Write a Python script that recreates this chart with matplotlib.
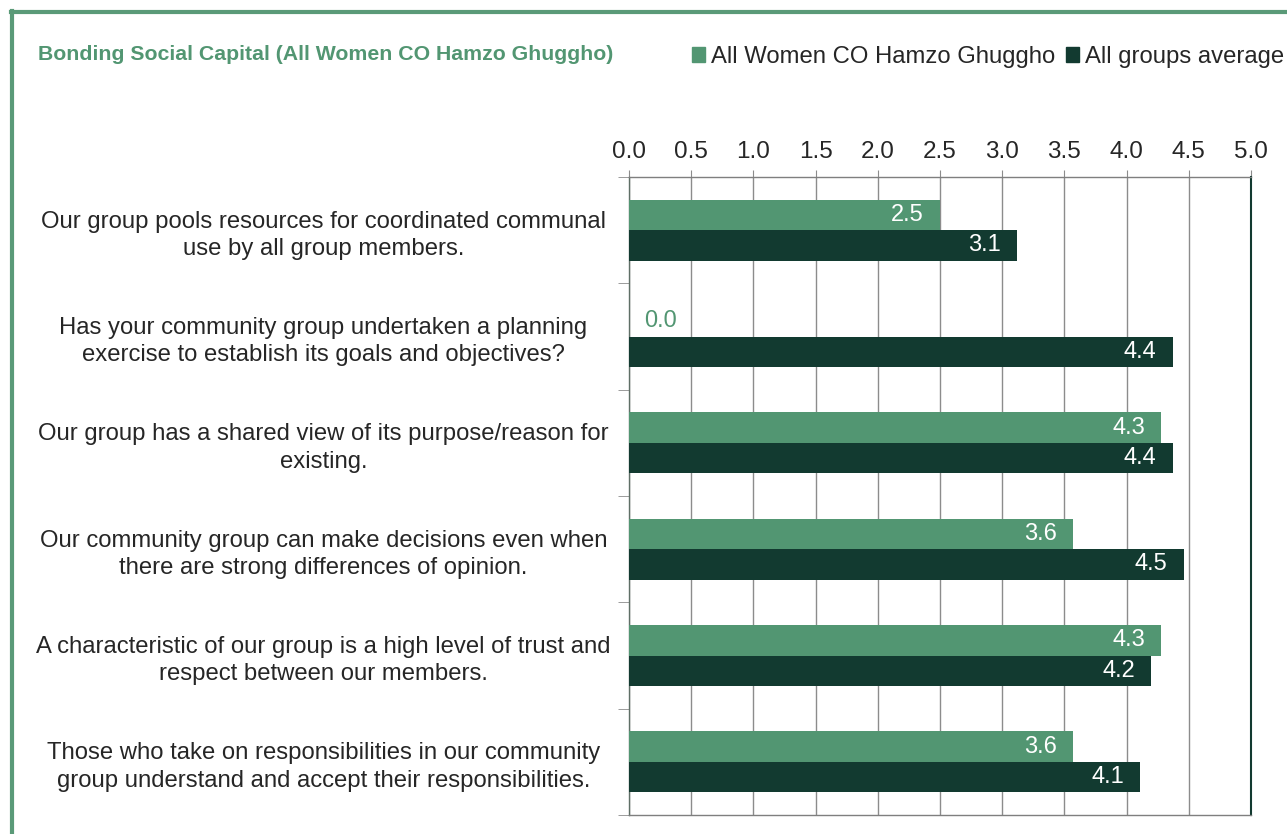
import matplotlib
matplotlib.use("Agg")
import matplotlib.pyplot as plt
from matplotlib.lines import Line2D
from matplotlib.patches import Patch
import numpy as np

plt.rcParams['font.family'] = ['Liberation Sans', 'DejaVu Sans']

categories = [
    "Our group pools resources for coordinated communal\nuse by all group members.",
    "Has your community group undertaken a planning\nexercise to establish its goals and objectives?",
    "Our group has a shared view of its purpose/reason for\nexisting.",
    "Our community group can make decisions even when\nthere are strong differences of opinion.",
    "A characteristic of our group is a high level of trust and\nrespect between our members.",
    "Those who take on responsibilities in our community\ngroup understand and accept their responsibilities.",
]
hamzo = [2.50, 0.0, 4.28, 3.57, 4.28, 3.57]
average = [3.12, 4.37, 4.37, 4.46, 4.20, 4.11]
series_names = ["All Women CO Hamzo Ghuggho", "All groups average"]
title = "Bonding Social Capital (All Women CO Hamzo Ghuggho)"
xticks = [0.0, 0.5, 1.0, 1.5, 2.0, 2.5, 3.0, 3.5, 4.0, 4.5, 5.0]

GREEN = "#529672"
DARK = "#123a30"
TEXT = "#262626"
GRID = "#8c8c8c"

fig = plt.figure(figsize=(12.87, 8.34), dpi=100)
ax = fig.add_axes([629 / 1287, 1 - 815 / 834, (1251 - 629) / 1287, (815 - 177) / 834])

y = np.arange(len(categories))
h = 0.287
ax.barh(y - h / 2, hamzo, height=h, color=GREEN, zorder=3)
ax.barh(y + h / 2, average, height=h, color=DARK, zorder=3)

VAL_FS = 17
for val, yy in zip(hamzo, y - h / 2):
    if val > 0.3:
        ax.text(val - 0.13, yy, f"{val:.1f}", ha="right", va="center",
                color="white", fontsize=VAL_FS, zorder=4)
    else:
        ax.text(val + 0.12, yy, f"{val:.1f}", ha="left", va="center",
                color=GREEN, fontsize=VAL_FS, zorder=4)
for val, yy in zip(average, y + h / 2):
    ax.text(val - 0.13, yy, f"{val:.1f}", ha="right", va="center",
            color="white", fontsize=VAL_FS, zorder=4)

ax.set_xlim(0, 5)
ax.set_ylim(len(categories) - 0.5, -0.5)
ax.xaxis.tick_top()
ax.set_xticks(xticks)
ax.set_xticklabels([f"{t:.1f}" for t in xticks], fontsize=17.5, color=TEXT)
ax.tick_params(axis="x", length=5, color=GRID, pad=5)
ax.grid(axis="x", color=GRID, linewidth=1.0, zorder=0)

ax.set_yticks(y)
ax.set_yticklabels(categories, fontsize=17.2, color=TEXT, ha="center", linespacing=1.32)
ax.tick_params(axis="y", which="major", length=0, pad=220)
ax.set_yticks(np.arange(-0.5, len(categories)), minor=True)
ax.tick_params(axis="y", which="minor", length=8, color=GRID)

for side in ["top", "left", "bottom"]:
    ax.spines[side].set_color("#7f7f7f")
    ax.spines[side].set_linewidth(1.0)
ax.spines["right"].set_color(DARK)
ax.spines["right"].set_linewidth(1.5)
ax.spines["left"].set_color("#5f6f66")

fig.text(38 / 1287, 1 - 54 / 834, title, color=GREEN, fontsize=15.3,
         fontweight="bold", va="center", ha="left")

handles = [Patch(color=GREEN), Patch(color=DARK)]
fig.legend(handles, series_names, loc="center left",
           bbox_to_anchor=(692 / 1287, 1 - 57 / 834), ncol=2, frameon=False,
           fontsize=17.2, handlelength=0.55, handleheight=0.55, handletextpad=0.25,
           columnspacing=0.45, borderaxespad=0, borderpad=0,
           labelcolor=TEXT)

# Frame lines along the top and left edges
fig.add_artist(Line2D([11 / 1287, 1.0], [1 - 12 / 834, 1 - 12 / 834],
                      color="#5a9a78", linewidth=3, transform=fig.transFigure))
fig.add_artist(Line2D([12 / 1287, 12 / 1287], [0.0, 1 - 11 / 834],
                      color="#5a9a78", linewidth=3, transform=fig.transFigure))

fig.savefig("out.png", dpi=100)
